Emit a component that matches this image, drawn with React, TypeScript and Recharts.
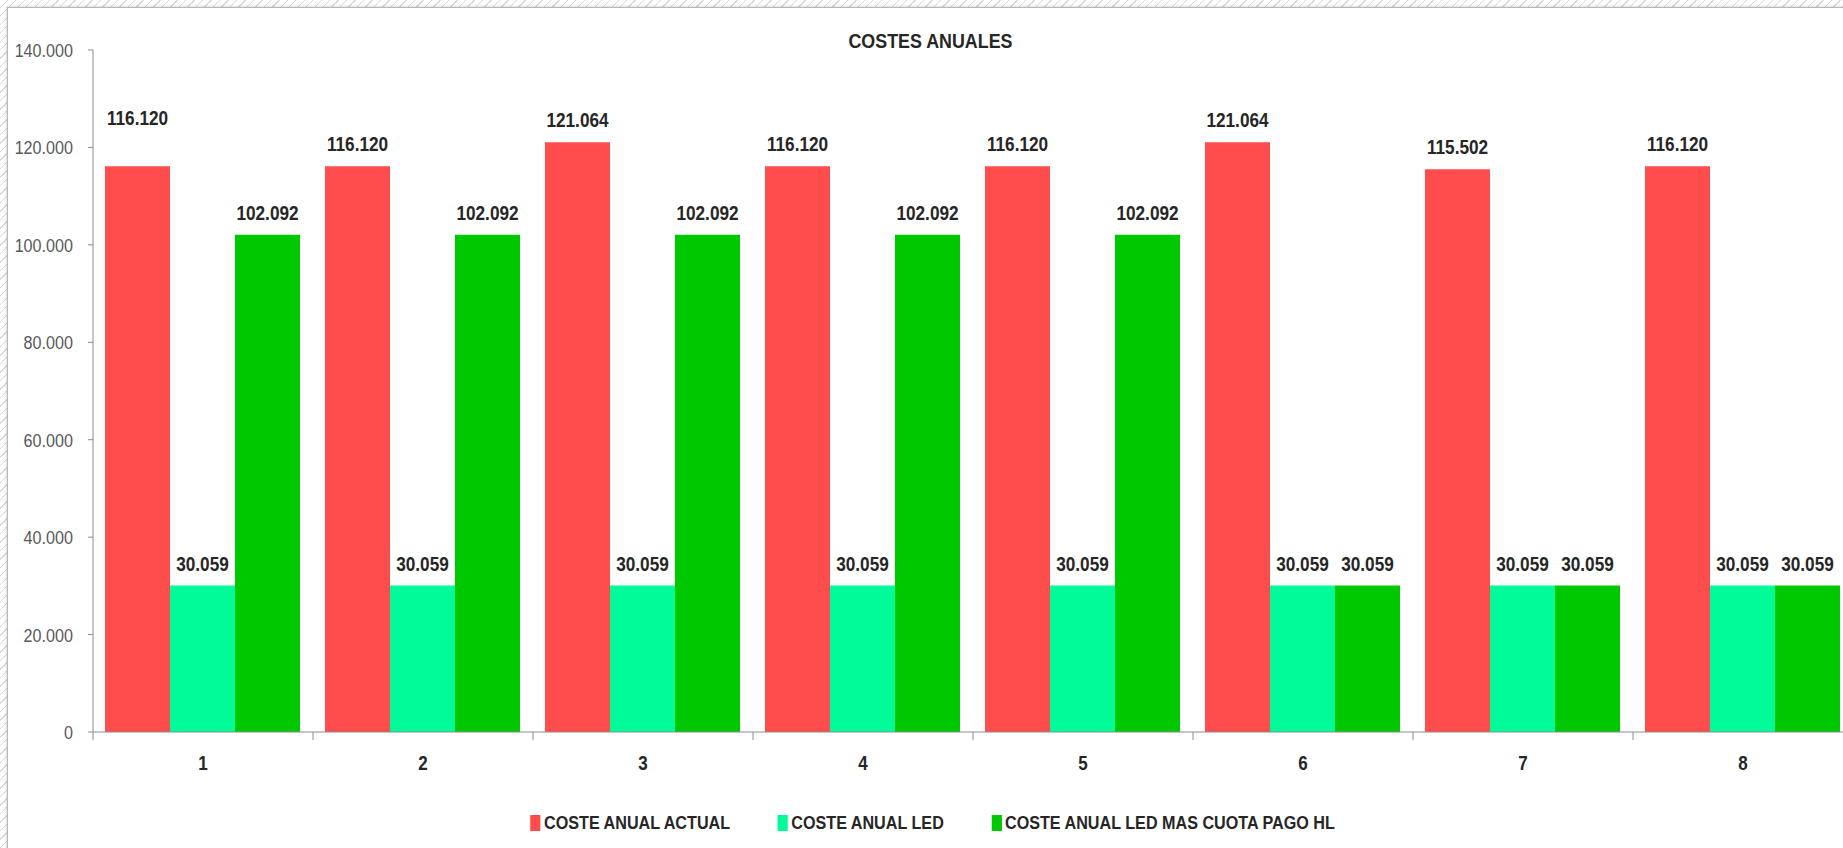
import { Bar, BarChart, LabelList, Legend, XAxis, YAxis } from 'recharts';

const categories = ['1', '2', '3', '4', '5', '6', '7', '8'];
const costeActual = [116120, 116120, 121064, 116120, 116120, 121064, 115502, 116120];
const costeLed = [30059, 30059, 30059, 30059, 30059, 30059, 30059, 30059];
const costeLedCuota = [102092, 102092, 102092, 102092, 102092, 30059, 30059, 30059];
const yTicks = [0, 20000, 40000, 60000, 80000, 100000, 120000, 140000];

const series = [
  { key: 'actual', name: 'COSTE ANUAL ACTUAL', color: '#FF4D4D' },
  { key: 'led', name: 'COSTE ANUAL LED', color: '#00FB98' },
  { key: 'cuota', name: 'COSTE ANUAL LED MAS CUOTA PAGO HL', color: '#00C800' },
];

const data = categories.map((c, i) => ({
  cat: c,
  actual: costeActual[i],
  led: costeLed[i],
  cuota: costeLedCuota[i],
}));

// no Calibri here, so squeeze Liberation Sans a bit to get the narrow Excel look
const FONT = '"Liberation Sans", Arial, sans-serif';
const SQUEEZE = 0.85;
const BAND = 220;

const fmt = (v: number) => String(v).replace(/\B(?=(\d{3})+(?!\d))/g, '.');

function XTick({ x, y, payload }: any) {
  return (
    <g>
      <line x1={x - BAND / 2} x2={x - BAND / 2} y1={y - 8} y2={y} stroke="#8c8c8c" />
      <text
        transform={`translate(${x}, ${y + 30}) scale(${SQUEEZE}, 1)`}
        textAnchor="middle"
        fill="#262626"
        fontSize={20}
        fontWeight="bold"
        fontFamily={FONT}
      >
        {payload.value}
      </text>
    </g>
  );
}

function YTick({ x, y, payload }: any) {
  return (
    <text
      transform={`translate(${x}, ${y + 7}) scale(${SQUEEZE}, 1)`}
      textAnchor="end"
      fill="#595959"
      fontSize={19}
      fontFamily={FONT}
    >
      {fmt(payload.value)}
    </text>
  );
}

function makeLabel(seriesKey: string) {
  return (props: any) => {
    const { x, y, width, value, index } = props;
    // the first red label was dragged higher in the original sheet
    const lift = seriesKey === 'actual' && index === 0 ? 41 : 15;
    return (
      <text
        transform={`translate(${x + width / 2}, ${y - lift}) scale(0.86, 1)`}
        textAnchor="middle"
        fill="#262626"
        fontSize={20}
        fontWeight="bold"
        fontFamily={FONT}
      >
        {fmt(value)}
      </text>
    );
  };
}

function LegendContent() {
  return (
    <div
      style={{
        display: 'flex',
        justifyContent: 'center',
        gap: 56,
        paddingTop: 4,
        fontFamily: FONT,
        transform: `scaleX(${SQUEEZE})`,
        transformOrigin: '937px 50%',
      }}
    >
      {series.map((s) => (
        <div key={s.key} style={{ display: 'flex', alignItems: 'center', gap: 4 }}>
          <span style={{ width: 12, height: 16, background: s.color, display: 'inline-block' }} />
          <span style={{ fontSize: 19, fontWeight: 'bold', color: '#262626' }}>{s.name}</span>
        </div>
      ))}
    </div>
  );
}

export default function App() {
  return (
    <div
      style={{
        position: 'fixed',
        left: 0,
        top: 0,
        width: 1843,
        height: 848,
        overflow: 'hidden',
        background: 'repeating-linear-gradient(135deg, #ffffff 0px, #ffffff 5px, #d9d9d9 5px, #d9d9d9 6px)',
      }}
    >
      <div
        style={{
          position: 'absolute',
          left: 7,
          top: 7,
          width: 1850,
          height: 850,
          background: '#fff',
          borderLeft: '1px solid #b8b8b8',
          borderTop: '1px solid #b8b8b8',
          boxShadow: '0 0 3px rgba(0,0,0,0.25)',
        }}
      >
        <div
          style={{
            position: 'absolute',
            left: 0,
            top: 21,
            width: 1845,
            textAlign: 'center',
            fontFamily: FONT,
            fontWeight: 'bold',
            fontSize: 21,
            color: '#262626',
          }}
        >
          <span style={{ display: 'inline-block', transform: `scaleX(${SQUEEZE})` }}>COSTES ANUALES</span>
        </div>
        <BarChart
          width={1850}
          height={840}
          data={data}
          margin={{ top: 42, right: 5, left: 0, bottom: 0 }}
          barCategoryGap={12}
          barGap={0}
        >
          <XAxis
            dataKey="cat"
            height={76}
            tick={<XTick />}
            tickLine={false}
            axisLine={{ stroke: '#8c8c8c' }}
            interval={0}
          />
          <YAxis
            width={85}
            domain={[0, 140000]}
            ticks={yTicks}
            tick={<YTick />}
            tickLine={{ stroke: '#8c8c8c' }}
            tickSize={5}
            tickMargin={15}
            axisLine={{ stroke: '#8c8c8c' }}
          />
          <Legend verticalAlign="bottom" height={40} content={<LegendContent />} />
          {series.map((s) => (
            <Bar key={s.key} dataKey={s.key} name={s.name} fill={s.color} isAnimationActive={false}>
              <LabelList dataKey={s.key} content={makeLabel(s.key)} />
            </Bar>
          ))}
        </BarChart>
      </div>
    </div>
  );
}
